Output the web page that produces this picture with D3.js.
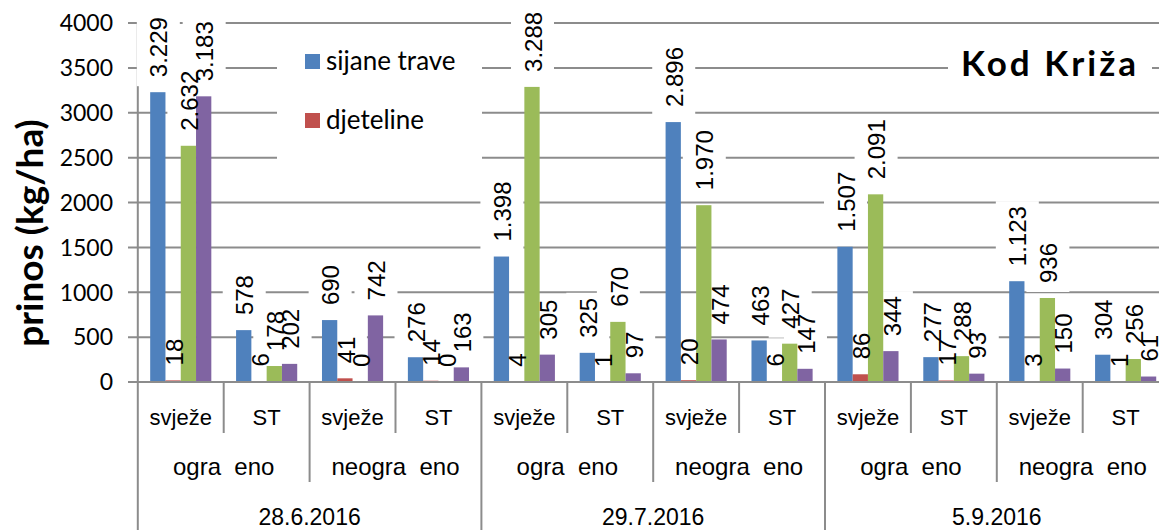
<!DOCTYPE html>
<html>
<head>
<meta charset="utf-8">
<script src="https://cdn.jsdelivr.net/npm/d3@7"></script>
<style>
  body { margin: 0; background: #fff; }
  text { fill: #000; }
</style>
</head>
<body>
<div id="chart"></div>
<script>
var width = 1159
var height = 530

// ---- data ----
var dates = ['28.6.2016', '29.7.2016', '5.9.2016']
var fences = ['ogra\u00a0\u00a0eno', 'neogra\u00a0\u00a0eno']
var states = ['svježe', 'ST']
var seriesNames = ['sijane trave', 'djeteline', 'serija 3', 'serija 4']
var sijaneTrave = [3229, 578, 690, 276, 1398, 325, 2896, 463, 1507, 277, 1123, 304]
var djeteline   = [18, 6, 41, 14, 4, 1, 20, 6, 86, 17, 3, 1]
var serija3     = [2632, 178, 0, 0, 3288, 670, 1970, 427, 2091, 288, 936, 256]
var serija4     = [3183, 202, 742, 163, 305, 97, 474, 147, 344, 93, 150, 61]
var yTicks = [0, 500, 1000, 1500, 2000, 2500, 3000, 3500, 4000]
var legendShown = ['sijane trave', 'djeteline']
var colors = ['#4F81BD', '#C0504D', '#9BBB59', '#8064A2']

var seriesValues = [sijaneTrave, djeteline, serija3, serija4]

// build the 12 category groups
var groups = []
dates.forEach(function (d, di) {
  fences.forEach(function (f, fi) {
    states.forEach(function (s, si) {
      groups.push({ key: di + '-' + fi + '-' + si, date: d, fence: f, state: s })
    })
  })
})

var svg = d3.select('#chart').append('svg')
  .attr('width', width)
  .attr('height', height)
  .style('font-family', "'Liberation Sans', Arial, sans-serif")

var x0 = d3.scaleBand().domain(groups.map(function (g) { return g.key })).range([137.8, 1168.6]).padding(0)
var x1 = d3.scaleBand().domain(seriesNames).range([0, x0.bandwidth()]).paddingInner(0).paddingOuter(0.81)
var y = d3.scaleLinear().domain([0, 4000]).range([382, 23])

var fmt = function (v) { return d3.format(',')(v).replace(/,/g, '.') }

var gridLayer = svg.append('g')
var boxLayer = svg.append('g')
var barLayer = svg.append('g')
var labelLayer = svg.append('g')
var overLayer = svg.append('g')

// gridlines + y ticks
gridLayer.selectAll('line.grid').data(yTicks).enter().append('line')
  .attr('x1', 128).attr('x2', 1168)
  .attr('y1', function (d) { return y(d) }).attr('y2', function (d) { return y(d) })
  .attr('stroke', '#8c8c8c').attr('stroke-width', 2)

gridLayer.append('line')
  .attr('x1', 137.8).attr('x2', 137.8).attr('y1', y(4000)).attr('y2', 382)
  .attr('stroke', '#8c8c8c').attr('stroke-width', 2)

svg.append('g').selectAll('text').data(yTicks).enter().append('text')
  .attr('x', 113).attr('y', function (d) { return y(d) })
  .attr('dy', '0.36em')
  .attr('text-anchor', 'end')
  .style('font-family', "Lato, sans-serif")
  .style('font-size', '23px')
  .text(function (d) { return d })

// bars
var cells = []
groups.forEach(function (g, gi) {
  seriesNames.forEach(function (s, si) {
    cells.push({ group: g.key, series: s, si: si, value: seriesValues[si][gi] })
  })
})

barLayer.selectAll('rect').data(cells).enter().append('rect')
  .attr('x', function (d) { return x0(d.group) + x1(d.series) })
  .attr('width', x1.bandwidth())
  .attr('y', function (d) { return y(d.value) })
  .attr('height', function (d) { return y(0) - y(d.value) })
  .attr('fill', function (d) { return colors[d.si] })

// data labels (white boxes sit behind the bars, text on top)
var labels = labelLayer.selectAll('text').data(cells).enter().append('text')
  .attr('transform', function (d) {
    var cx = x0(d.group) + x1(d.series) + x1.bandwidth() / 2
    return 'translate(' + (cx + 1) + ',' + (y(d.value) - 15) + ') rotate(-90)'
  })
  .attr('dy', '0.36em')
  .style('font-size', '24px')
  .text(function (d) { return fmt(d.value) })

labels.each(function (d) {
  var len = this.getComputedTextLength()
  var cx = x0(d.group) + x1(d.series) + x1.bandwidth() / 2
  var top = y(d.value) - 15 - len - 5
  boxLayer.append('rect')
    .attr('x', cx - 21).attr('width', 43)
    .attr('y', top).attr('height', y(d.value) - 6 - top)
    .attr('fill', '#fff')
})

// x axis
svg.append('line')
  .attr('x1', 137.8).attr('x2', 1168).attr('y1', 382).attr('y2', 382)
  .attr('stroke', '#8c8c8c').attr('stroke-width', 2)

var step = x0.step()
var seps = d3.range(0, 12)
svg.append('g').selectAll('line').data(seps).enter().append('line')
  .attr('x1', function (k) { return 137.8 + k * step })
  .attr('x2', function (k) { return 137.8 + k * step })
  .attr('y1', 382)
  .attr('y2', function (k) { return k % 4 === 0 ? 530 : (k % 2 === 0 ? 482 : 433) })
  .attr('stroke', '#8c8c8c').attr('stroke-width', 2)

svg.append('g').selectAll('text').data(groups).enter().append('text')
  .attr('x', function (g) { return x0(g.key) + x0.bandwidth() / 2 })
  .attr('y', 425)
  .attr('text-anchor', 'middle')
  .style('font-size', '22px')
  .text(function (g) { return g.state })

var pairs = groups.filter(function (g, i) { return i % 2 === 0 })
svg.append('g').selectAll('text').data(pairs).enter().append('text')
  .attr('x', function (g) { return x0(g.key) + step })
  .attr('y', 475)
  .attr('text-anchor', 'middle')
  .style('font-size', '24px')
  .text(function (g) { return g.fence })

var quads = groups.filter(function (g, i) { return i % 4 === 0 })
svg.append('g').selectAll('text').data(quads).enter().append('text')
  .attr('x', function (g) { return x0(g.key) + 2 * step })
  .attr('y', 525)
  .attr('text-anchor', 'middle')
  .style('font-size', '23px')
  .text(function (g) { return g.date })

// axis title
svg.append('text')
  .attr('transform', 'translate(30,233) rotate(-90)')
  .attr('dy', '0.36em')
  .attr('text-anchor', 'middle')
  .style('font-family', "Lato, sans-serif")
  .style('font-weight', 'bold')
  .style('font-size', '37px')
  .text('prinos (kg/ha)')

// legend
overLayer.append('rect')
  .attr('x', 277).attr('y', 31).attr('width', 205).attr('height', 158)
  .attr('fill', '#fff')
var leg = overLayer.selectAll('g.leg').data(legendShown).enter().append('g')
  .attr('transform', function (d, i) { return 'translate(305,' + (54 + i * 59) + ')' })
leg.append('rect').attr('width', 15).attr('height', 15)
  .attr('fill', function (d) { return colors[seriesNames.indexOf(d)] })
leg.append('text')
  .attr('x', 21).attr('y', 16)
  .style('font-family', "Lato, sans-serif")
  .style('font-size', '26px')
  .text(function (d) { return d })

// title
overLayer.append('rect')
  .attr('x', 948).attr('y', 44).attr('width', 204).attr('height', 48)
  .attr('fill', '#fff')
overLayer.append('text')
  .attr('x', 1050).attr('y', 76)
  .attr('text-anchor', 'middle')
  .style('font-family', "Lato, sans-serif")
  .style('font-weight', 'bold')
  .style('font-size', '35px')
  .style('letter-spacing', '3px')
  .text('Kod Križa')
</script>
</body>
</html>
